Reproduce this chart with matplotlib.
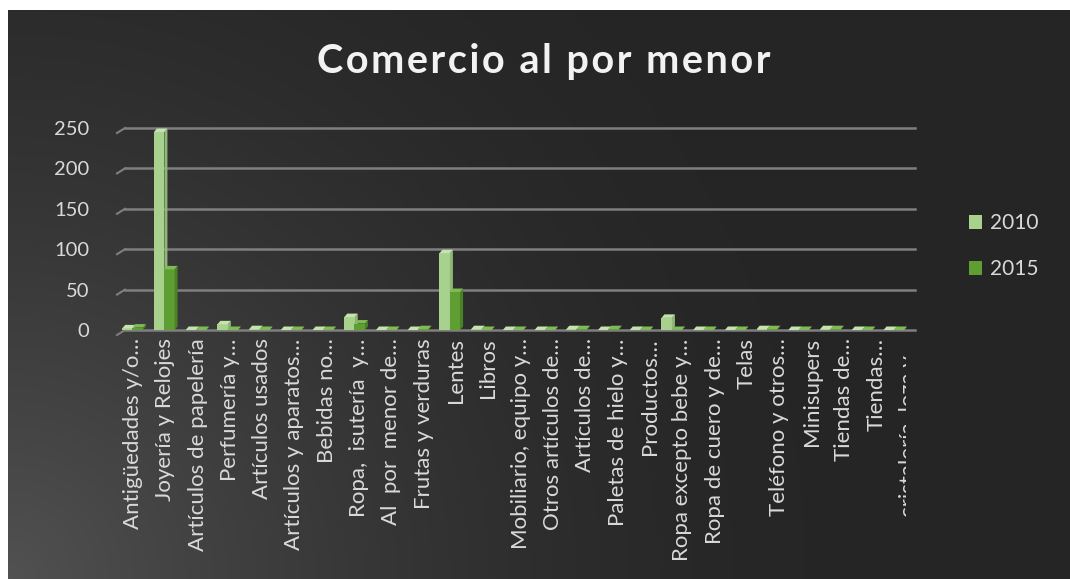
import numpy as np
import matplotlib.pyplot as plt
from matplotlib.patches import Polygon, Patch, Rectangle

categories = [
    'Antigüedades y/o…', 'Joyería y Relojes', 'Artículos de papelería',
    'Perfumería y…', 'Artículos usados', 'Artículos y aparatos…',
    'Bebidas no…', 'Ropa,  isutería  y…', 'Al  por  menor de…',
    'Frutas y verduras', 'Lentes', 'Libros', 'Mobiliario, equipo y…',
    'Otros artículos de…', 'Artículos de…', 'Paletas de hielo y…',
    'Productos…', 'Ropa excepto bebe y…', 'Ropa de cuero y de…', 'Telas',
    'Teléfono y otros…', 'Minisupers', 'Tiendas de…', 'Tiendas…',
    'cristalería, loza y…',
]
values_2010 = [2, 245, 0, 7, 1, 0, 0, 16, 0, 0, 95, 1, 0, 0, 1, 0, 0, 15, 0, 0, 1, 0, 1, 0, 0]
values_2015 = [3, 75, 0, 0, 0, 0, 0, 8, 0, 1, 47, 0, 0, 0, 1, 1, 0, 0, 0, 0, 1, 0, 1, 0, 0]
series = [('2010', values_2010), ('2015', values_2015)]
yticks = [0, 50, 100, 150, 200, 250]
title = 'Comercio al por menor'

FONT = ['Lato', 'DejaVu Sans']
TXT = '#d9d9d9'
colors = {'2010': ('#a9d18e', '#8fb877', '#c4e3af'),
          '2015': ('#5e9e32', '#4a8326', '#7fba55')}

W, H = 1070, 579
fig = plt.figure(figsize=(W / 100, H / 100), dpi=100)
fig.patch.set_facecolor('white')

# dark background with lighter glow in the bottom-left corner
bg = fig.add_axes([8 / W, 0, 1 - 8 / W, 1 - 10 / H])
bg.set_axis_off()
yy, xx = np.mgrid[0:569, 0:1062]
d = np.sqrt(xx ** 2 + (568 - yy) ** 2)
v = 0.149 + 0.17 * np.clip(1 - d / 800, 0, 1) ** 1.6
bg.imshow(np.dstack([v, v, v]), aspect='auto', extent=[0, 1, 0, 1])
bg.set_xlim(0, 1)
bg.set_ylim(0, 1)

x0, x1, ybot, ytop = 117, 910, 330, 128
ax = fig.add_axes([x0 / W, 1 - ybot / H, (x1 - x0) / W, (ybot - ytop) / H])
ax.set_facecolor('none')
n = len(categories)
ax.set_xlim(-0.5, n - 0.5)
ax.set_ylim(0, 250)
for s in ax.spines.values():
    s.set_visible(False)

# depth of the fake 3d bars, in data units
px_x = (x1 - x0) / n
px_y = (ybot - ytop) / 250
dx, dy = 3 / px_x, 3.5 / px_y
gx, gy = 8 / px_x, 5 / px_y

for t in yticks:
    ax.plot([-0.5 + gx, n - 0.35], [t, t], color='#7f7f7f', lw=1.8, zorder=1, clip_on=False)
    ax.plot([-0.5, -0.5 + gx], [t - gy, t], color='#7f7f7f', lw=1.5, zorder=1, clip_on=False)

bw = 0.33
offsets = [-0.17, 0.15]
for (name, vals), off in zip(series, offsets):
    front, side, top = colors[name]
    for i, val in enumerate(vals):
        left = i + off - bw / 2
        ax.add_patch(Rectangle((left, 0), bw, val, facecolor=front, edgecolor='none', zorder=3))
        ax.add_patch(Polygon([(left + bw, 0), (left + bw + dx, dy), (left + bw + dx, val + dy),
                              (left + bw, val)], closed=True, facecolor=side, edgecolor='none', zorder=3))
        ax.add_patch(Polygon([(left, val), (left + dx, val + dy), (left + bw + dx, val + dy),
                              (left + bw, val)], closed=True, facecolor=top, edgecolor='none', zorder=3))

ax.set_yticks(yticks)
ax.set_yticklabels([str(t) for t in yticks], family=FONT, fontsize=14.5, color=TXT)
ax.tick_params(axis='y', length=0, pad=20)
# category labels sit on a slightly wider spacing than the bars (3d perspective)
ax.set_xticks(np.arange(n) * 1.019)
labels = ax.set_xticklabels(categories, rotation=90, family=FONT, fontsize=16, color=TXT)
ax.tick_params(axis='x', length=0, pad=6)
clip = Rectangle((0, 0), 906 / W, 1, transform=fig.transFigure)
labels[-1].set_clip_path(clip)

spaced = '\u200a'.join(title)
fig.text(544 / W, 1 - 61 / H, spaced, ha='center', va='center',
         family=FONT, fontsize=28.5, fontweight='bold', color='#f2f2f2')

handles = [Patch(facecolor=colors[name][0], label=name) for name, _ in series]
fig.legend(handles=handles, loc='center left', bbox_to_anchor=(950 / W, 1 - 246 / H),
           frameon=False, prop={'family': FONT, 'size': 15}, labelcolor=TXT,
           handlelength=0.65, handleheight=0.65, handletextpad=0.35, labelspacing=1.25)

fig.savefig('out.png', dpi=100, facecolor=fig.get_facecolor())
